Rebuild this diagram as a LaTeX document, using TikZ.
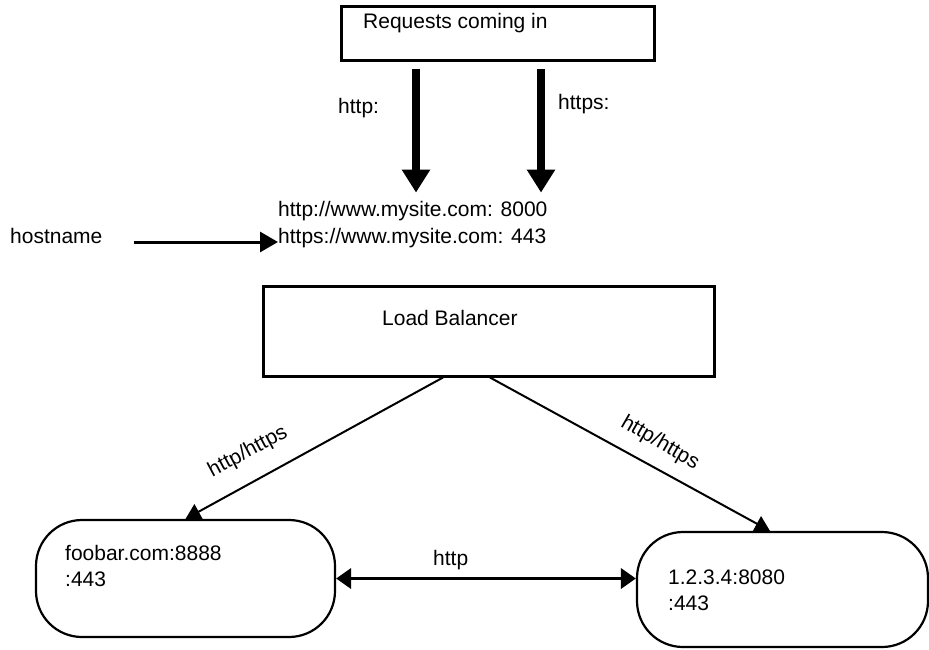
\documentclass[tikz,border=0pt]{standalone}
\usepackage{fontspec}
\setmainfont{Liberation Sans}
\usetikzlibrary{
  arrows.meta,
  positioning
}
\tikzset{
txt/.style={
  font=\fontsize{21}{25}\selectfont,
  inner sep=0pt
},
sqbox/.style={
  draw,
  line width=3pt,
  inner sep=0pt
},
srvbox/.style={
  draw,
  line width=2.2pt,
  rounded corners=46pt,
  inner sep=0pt
},
fatarrow/.style={
  -{Triangle[length=23pt,width=27pt]},
  line width=8pt
},
arrow/.style={
  -{Triangle[length=18pt,width=20pt]},
  line width=3pt
},
dblarrow/.style={
  {Triangle[length=15pt,width=20pt]}-{Triangle[length=15pt,width=20pt]},
  line width=3.5pt
},
linkarrow/.style={
  -{Triangle[length=15pt,width=17pt]},
  line width=2pt
}
}
\begin{document}
\begin{tikzpicture}[x=1pt,y=-1pt]
  \useasboundingbox (0,0) rectangle (929,649);

  % Incoming requests
  \node[sqbox, minimum width=313pt, minimum height=54pt] (req) at (497.5,33) {};
  \node[txt, anchor=base west] (reqtxt) at (363,28) {Requests coming in};
  \node[txt, anchor=base west] (httplbl) at (338,113) {http:};
  \node[txt, anchor=base west] (httpslbl) at (558,109) {https:};

  % Hostnames
  \node[txt, anchor=base west] (hosthttp) at (278,216) {http://www.mysite.com: 8000};
  \node[txt, anchor=base west] (hosthttps) at (278,243) {https://www.mysite.com: 443};
  \node[txt, anchor=base west] (hostname) at (10,243) {hostname};

  % Load balancer
  \node[sqbox, minimum width=451pt, minimum height=90pt] (lb) at (488.5,331) {};
  \node[txt, anchor=base west] (lbtxt) at (382,325) {Load Balancer};

  % Backend servers
  \node[srvbox, minimum width=299pt, minimum height=117pt] (foo) at (185.5,578.5) {};
  \node[txt, anchor=base west] (footxt) at (65,560) {foobar.com:8888};
  \node[txt, anchor=base west] (fooport) at (65,586) {:443};
  \node[srvbox, minimum width=291pt, minimum height=115pt] (ip) at (782.5,589.5) {};
  \node[txt, anchor=base west] (iptxt) at (668,584) {1.2.3.4:8080};
  \node[txt, anchor=base west] (ipport) at (668,610) {:443};

  % Arrows into the hostnames
  \coordinate (inhttp) at ([xshift=-81.5pt,yshift=-7pt]req.south);
  \coordinate (inhttps) at ([xshift=43.5pt,yshift=-7pt]req.south);
  \draw[fatarrow] (inhttp) -- ([yshift=8pt]inhttp |- hosthttp.north);
  \draw[fatarrow] (inhttps) -- ([yshift=8pt]inhttps |- hosthttp.north);
  \draw[arrow] ([xshift=31pt,yshift=1pt]hostname.base east) -- ([yshift=1pt]hosthttps.base west);

  % Balancer to servers
  \draw[linkarrow] ([xshift=-45.5pt]lb.south) -- (foo.north);
  \draw[linkarrow] ([xshift=1.5pt]lb.south) -- ([xshift=-12.5pt]ip.north);
  \draw[dblarrow] (foo.east) -- (foo.east -| ip.west);
  \node[txt, rotate=28] (lbl1) at (248,452) {http/https};
  \node[txt, rotate=-30] (lbl2) at (660,443) {http/https};
  \node[txt, anchor=base west] (lbl3) at (433,565) {http};
\end{tikzpicture}
\end{document}
